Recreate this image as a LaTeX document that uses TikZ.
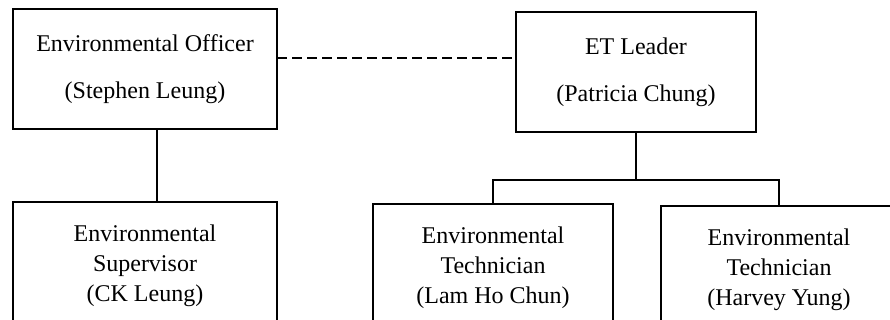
\documentclass[tikz,border=0pt]{standalone}
\usepackage{fontspec}
\setmainfont{Liberation Serif}
\usetikzlibrary{positioning,calc}

\tikzset{
  rolebox/.style={draw, line width=1pt, inner sep=0pt, outer sep=0pt, align=center},
  topbox/.style={rolebox, minimum height=60pt},
  staffbox/.style={rolebox, minimum height=64pt},
  link/.style={line width=1pt},
}

\begin{document}
\begin{tikzpicture}[x=0.5pt, y=-0.5pt, font=\fontsize{12}{15}\selectfont]
  \useasboundingbox (0,0) rectangle (890,320);
  \clip (0,0) rectangle (890,320);

  % upper row
  \node[topbox, minimum width=132pt] (officer) at (145,69.5) {Environmental Officer\\[8.5pt](Stephen Leung)};
  \node[topbox, minimum width=120pt] (leader) at (636,72) {ET Leader\\[8.5pt](Patricia Chung)};

  % lower row
  \node[staffbox, minimum width=132pt] (supervisor) at (145,266) {Environmental\\Supervisor\\(CK Leung)};
  \node[staffbox, minimum width=120pt] (techlam) at (493,268) {Environmental\\Technician\\(Lam Ho Chun)};
  \node[staffbox, minimum width=118pt] (techyung) at (779,270) {Environmental\\Technician\\(Harvey Yung)};

  \coordinate (fork) at (636,180);

  \draw[link, dash pattern=on 5pt off 2.5pt] ([yshift=5.5pt]officer.east) -- ([yshift=5.5pt]officer.east -| leader.west);
  \draw[link] ([xshift=6pt]officer.south) -- ([xshift=6pt]officer.south |- supervisor.north);
  \draw[link] (leader.south) -- (fork);
  \draw[link] (techlam.north) |- (fork) -| (techyung.north);
\end{tikzpicture}
\end{document}
